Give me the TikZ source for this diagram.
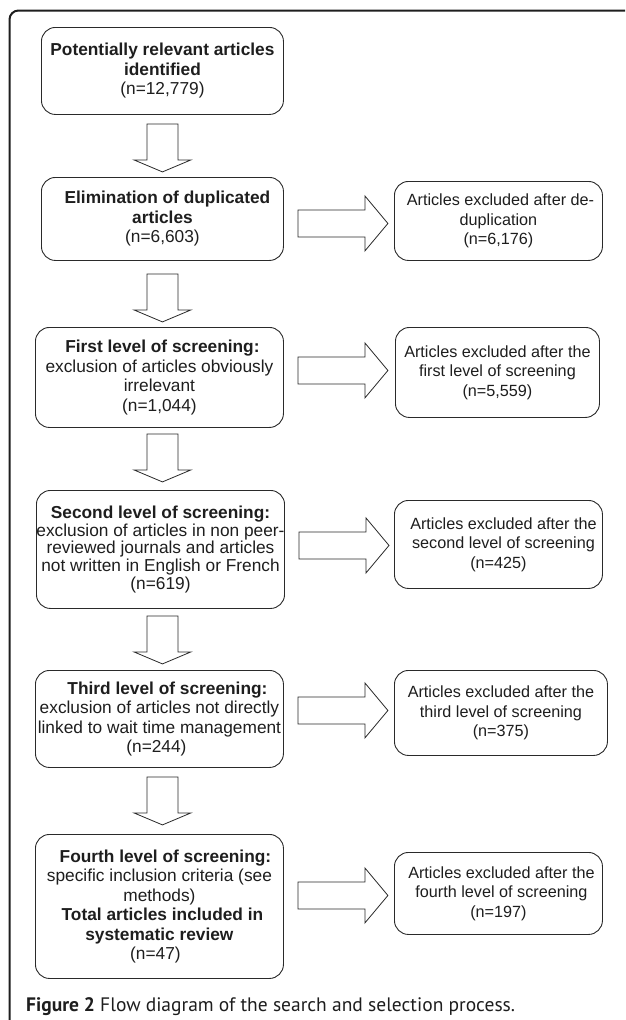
\documentclass[tikz,border=0pt]{standalone}
\usepackage{fontspec}
\setmainfont{Liberation Sans}
\newfontfamily\capfont{PT Sans}
\usetikzlibrary{calc}
\definecolor{ink}{HTML}{1E1E1E}
\definecolor{edge}{HTML}{2A2A2A}
\tikzset{
  box/.style={draw=edge, line width=0.9pt, rounded corners=14pt, align=center,
    inner sep=0pt, anchor=north west, text=ink, font=\fontsize{17.3}{19.5}\selectfont},
  rbox/.style={box, font=\fontsize{16.2}{19.5}\selectfont},
  blk/.style={draw=edge, line width=0.8pt, fill=white, line join=miter},
  darrow/.pic={\draw[blk] (-15.5,0) -- (15.5,0) -- (15.5,36) -- (28.5,36) -- (0,48) -- (-28.5,36) -- (-15.5,36) -- cycle;},
  rarrow/.pic={\draw[blk] (0,-13.5) -- (67,-13.5) -- (67,-27.5) -- (90,0) -- (67,27.5) -- (67,13.5) -- (0,13.5) -- cycle;},
  frame/.style={draw=ink, line width=2pt, rounded corners=9pt}
}
\begin{document}
\begin{tikzpicture}[x=1pt,y=-1pt]
\useasboundingbox (0,0) rectangle (625,1020);
\clip (0,0) rectangle (625,1020);
\fill[white] (0,0) rectangle (625,1020);
\draw[frame] (9.5,1040) -- (9.5,10.5) -- (650,10.5);

% left column
\node[box, minimum width=242pt, minimum height=87pt] (A) at (41,27)
  {\textbf{Potentially relevant articles}\\\textbf{identified}\\(n=12,779)};
\node[box, minimum width=242pt, minimum height=83pt] (B) at (41,177)
  {\hspace*{10pt}\textbf{Elimination of duplicated}\\\textbf{articles}\\(n=6,603)};
\node[box, minimum width=248pt, minimum height=100pt] (C) at (35,327)
  {\hspace*{6pt}\textbf{First level of screening:}\\exclusion of articles obviously\\irrelevant\\(n=1,044)};
\node[box, minimum width=247pt, minimum height=118pt, font=\fontsize{17.3}{17.8}\selectfont] (D) at (36,490)
  {\textbf{Second level of screening:}\\exclusion of articles in non peer-\\reviewed journals and articles\\not written in English or French\\(n=619)};
\node[box, minimum width=248pt, minimum height=97pt] (E) at (35,670)
  {\hspace*{16pt}\textbf{Third level of screening:}\\exclusion of articles not directly\\linked to wait time management\\(n=244)\hspace*{6pt}};
\node[box, minimum width=248pt, minimum height=144pt] (F) at (35,834)
  {\hspace*{12pt}\textbf{Fourth level of screening:}\\specific inclusion criteria (see\\methods)\hspace*{12pt}\\\hspace*{6pt}\textbf{Total articles included in}\\\textbf{systematic review}\\(n=47)\hspace*{8pt}};

% right column
\node[rbox, minimum width=208pt, minimum height=79pt] (R1) at (394,181)
  {\hspace*{4pt}Articles excluded after de-\\duplication\\(n=6,176)};
\node[rbox, minimum width=204pt, minimum height=90pt] (R2) at (395,327)
  {Articles excluded after the\\first level of screening\\(n=5,559)};
\node[rbox, minimum width=208pt, minimum height=88pt] (R3) at (394,500)
  {\hspace*{10pt}Articles excluded after the\\\hspace*{10pt}second level of screening\\(n=425)};
\node[rbox, minimum width=213pt, minimum height=85pt] (R4) at (394,670)
  {Articles excluded after the\\third level of screening\\(n=375)};
\node[rbox, minimum width=208pt, minimum height=82pt] (R5) at (394,852)
  {\hspace*{6pt}Articles excluded after the\\\hspace*{6pt}fourth level of screening\\(n=197)};

% down arrows
\pic at ($(A.south)+(0,9)$) {darrow};
\pic at ($(A.south|-B.south)+(0,13)$) {darrow};
\pic at ($(A.south|-C.south)+(0,6)$) {darrow};
\pic at ($(A.south|-D.south)+(0,7)$) {darrow};
\pic at ($(A.south|-E.south)+(0,9)$) {darrow};

% right arrows
\pic at ($(B.east|-R1.west)+(14,2.5)$) {rarrow};
\pic at ($(C.east|-R2.west)+(14,-2)$) {rarrow};
\pic at ($(D.east|-R3.west)+(14,1)$) {rarrow};
\pic at ($(E.east|-R4.west)+(14,-2.5)$) {rarrow};
\pic at ($(F.east|-R5.west)+(14,2)$) {rarrow};

% caption
\node[anchor=base west, inner sep=0pt, text=ink, font=\capfont\fontsize{19.5}{23}\selectfont] (cap) at (26,1011)
  {\textbf{Figure 2} Flow diagram of the search and selection process.};
\end{tikzpicture}
\end{document}
